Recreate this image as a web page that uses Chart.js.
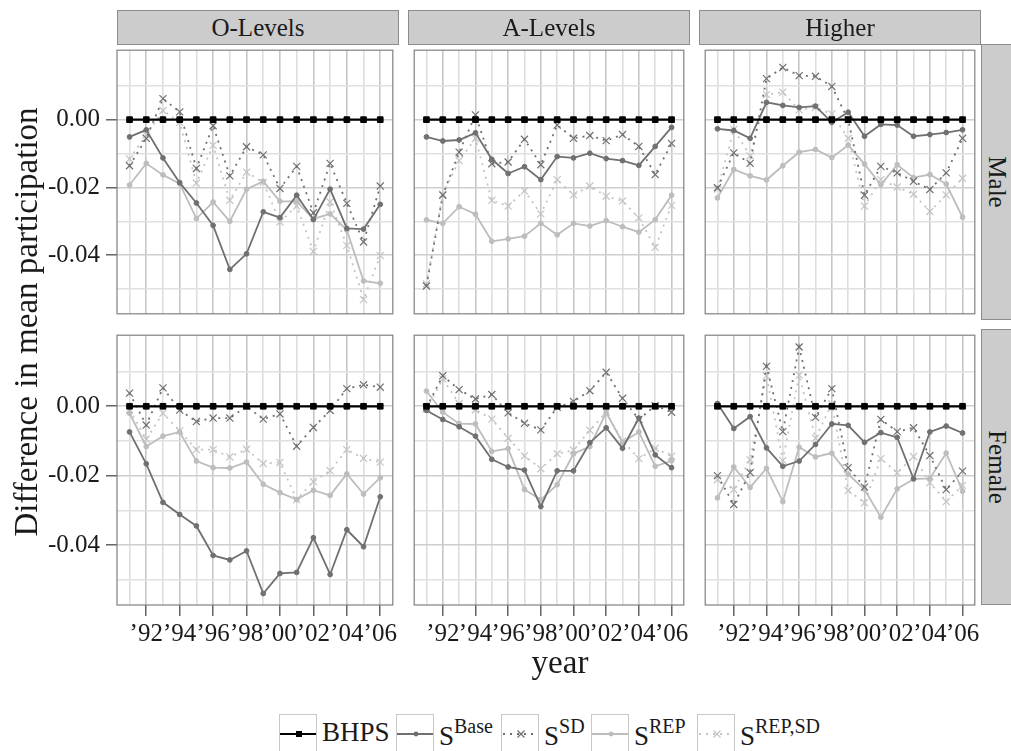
<!DOCTYPE html>
<html>
<head>
<meta charset="utf-8">
<script src="https://cdn.jsdelivr.net/npm/chart.js@4.4.0/dist/chart.umd.min.js"></script>
<style>
  body { margin: 0; background: #fff; width: 1011px; height: 751px; overflow: hidden; position: relative; font-family: 'Liberation Serif', 'DejaVu Serif', serif; color: #1a1a1a; }
  canvas { position: absolute; }
  .strip { position: absolute; background: #cccccc; border: 1px solid #8c8c8c; box-sizing: border-box; display: flex; align-items: center; justify-content: center; font-size: 25px; overflow: hidden; }
  .vtext { transform: rotate(90deg); white-space: nowrap; display: inline-block; }
  .title { position: absolute; font-size: 33px; white-space: nowrap; text-align: center; }
  .key { position: absolute; top: 714px; width: 38px; height: 40px; box-sizing: border-box; border: 1px solid #c8c8c8; }
  .lab { position: absolute; top: 717px; font-size: 27px; white-space: nowrap; }
  .lab sup { font-size: 20px; position: relative; top: -2px; }
</style>
</head>
<body>
<script>
const years = [1991, 1992, 1993, 1994, 1995, 1996, 1997, 1998, 1999, 2000, 2001, 2002, 2003, 2004, 2005, 2006];
const bhps  = [0, 0, 0, 0, 0, 0, 0, 0, 0, 0, 0, 0, 0, 0, 0, 0];

// O-Levels, Male
const olMaleBase  = [-0.0051, -0.0030, -0.0113, -0.0186, -0.0246, -0.0312, -0.0442, -0.0396, -0.0272, -0.0289, -0.0223, -0.0295, -0.0205, -0.0321, -0.0323, -0.0250];
const olMaleSD    = [-0.0136, -0.0055, 0.0062, 0.0023, -0.0144, -0.0018, -0.0166, -0.0080, -0.0104, -0.0203, -0.0138, -0.0275, -0.0129, -0.0247, -0.0361, -0.0196];
const olMaleRep   = [-0.0193, -0.0129, -0.0163, -0.0189, -0.0292, -0.0243, -0.0300, -0.0205, -0.0182, -0.0241, -0.0241, -0.0293, -0.0278, -0.0326, -0.0476, -0.0483];
const olMaleRepSD = [-0.0116, -0.0045, 0.0027, -0.0008, -0.0187, -0.0076, -0.0238, -0.0155, -0.0185, -0.0302, -0.0255, -0.0389, -0.0243, -0.0371, -0.0531, -0.0401];

// A-Levels, Male
const alMaleBase  = [-0.0051, -0.0063, -0.0060, -0.0039, -0.0117, -0.0159, -0.0139, -0.0177, -0.0109, -0.0113, -0.0099, -0.0115, -0.0121, -0.0135, -0.0079, -0.0023];
const alMaleSD    = [-0.0491, -0.0223, -0.0096, 0.0014, -0.0130, -0.0125, -0.0058, -0.0133, -0.0016, -0.0055, -0.0047, -0.0062, -0.0044, -0.0079, -0.0162, -0.0070];
const alMaleRep   = [-0.0296, -0.0306, -0.0257, -0.0279, -0.0359, -0.0352, -0.0344, -0.0306, -0.0340, -0.0306, -0.0314, -0.0298, -0.0316, -0.0332, -0.0295, -0.0223];
const alMaleRepSD = [-0.0485, -0.0220, -0.0121, -0.0055, -0.0238, -0.0255, -0.0210, -0.0278, -0.0177, -0.0222, -0.0196, -0.0226, -0.0240, -0.0290, -0.0377, -0.0253];

// Higher, Male
const hiMaleBase  = [-0.0027, -0.0032, -0.0055, 0.0051, 0.0042, 0.0036, 0.0040, -0.0008, 0.0022, -0.0049, -0.0014, -0.0016, -0.0049, -0.0044, -0.0038, -0.0030];
const hiMaleSD    = [-0.0201, -0.0098, -0.0129, 0.0121, 0.0154, 0.0130, 0.0128, 0.0098, 0.0000, -0.0223, -0.0138, -0.0157, -0.0182, -0.0206, -0.0157, -0.0055];
const hiMaleRep   = [-0.0231, -0.0147, -0.0166, -0.0178, -0.0136, -0.0096, -0.0088, -0.0112, -0.0075, -0.0131, -0.0192, -0.0133, -0.0171, -0.0162, -0.0190, -0.0288];
const hiMaleRepSD = [-0.0205, -0.0029, -0.0107, 0.0074, 0.0081, 0.0029, 0.0036, 0.0017, -0.0055, -0.0255, -0.0177, -0.0199, -0.0220, -0.0271, -0.0222, -0.0173];

// O-Levels, Female
const olFemBase  = [-0.0074, -0.0166, -0.0277, -0.0312, -0.0345, -0.0430, -0.0443, -0.0417, -0.0540, -0.0482, -0.0479, -0.0379, -0.0485, -0.0356, -0.0405, -0.0261];
const olFemSD    = [0.0038, -0.0054, 0.0053, -0.0011, -0.0044, -0.0034, -0.0034, 0.0000, -0.0037, -0.0022, -0.0115, -0.0061, -0.0012, 0.0051, 0.0062, 0.0055];
const olFemRep   = [-0.0020, -0.0116, -0.0086, -0.0074, -0.0158, -0.0177, -0.0178, -0.0161, -0.0225, -0.0249, -0.0269, -0.0242, -0.0257, -0.0195, -0.0253, -0.0206];
const olFemRepSD = [-0.0010, -0.0095, -0.0020, -0.0071, -0.0125, -0.0125, -0.0146, -0.0124, -0.0165, -0.0162, -0.0269, -0.0217, -0.0186, -0.0125, -0.0150, -0.0161];

// A-Levels, Female
const alFemBase  = [-0.0012, -0.0038, -0.0059, -0.0086, -0.0153, -0.0175, -0.0184, -0.0289, -0.0186, -0.0186, -0.0105, -0.0062, -0.0121, -0.0034, -0.0140, -0.0177];
const alFemSD    = [-0.0003, 0.0088, 0.0048, 0.0021, 0.0034, -0.0019, -0.0049, -0.0068, -0.0003, 0.0014, 0.0045, 0.0098, 0.0023, -0.0038, 0.0002, -0.0017];
const alFemRep   = [0.0044, -0.0017, -0.0050, -0.0051, -0.0130, -0.0122, -0.0240, -0.0269, -0.0226, -0.0137, -0.0116, -0.0018, -0.0104, -0.0074, -0.0173, -0.0157];
const alFemRepSD = [-0.0008, 0.0079, 0.0008, -0.0010, -0.0037, -0.0092, -0.0143, -0.0180, -0.0137, -0.0126, -0.0069, -0.0017, -0.0100, -0.0151, -0.0121, -0.0144];

// Higher, Female
const hiFemBase  = [0.0008, -0.0064, -0.0030, -0.0120, -0.0173, -0.0158, -0.0110, -0.0051, -0.0055, -0.0104, -0.0076, -0.0090, -0.0209, -0.0074, -0.0057, -0.0077];
const hiFemSD    = [-0.0200, -0.0283, -0.0191, 0.0115, -0.0073, 0.0171, -0.0032, 0.0051, -0.0177, -0.0233, -0.0038, -0.0073, -0.0062, -0.0142, -0.0240, -0.0187];
const hiFemRep   = [-0.0264, -0.0175, -0.0234, -0.0179, -0.0275, -0.0118, -0.0146, -0.0135, -0.0196, -0.0240, -0.0320, -0.0238, -0.0210, -0.0208, -0.0135, -0.0245];
const hiFemRepSD = [-0.0212, -0.0240, -0.0154, 0.0088, -0.0156, 0.0090, -0.0092, 0.0007, -0.0243, -0.0278, -0.0151, -0.0192, -0.0145, -0.0220, -0.0275, -0.0228];

const yTicks = [0.01, 0, -0.01, -0.02, -0.03, -0.04, -0.05];
const colNames = ['O-Levels', 'A-Levels', 'Higher'];
const rowNames = ['Male', 'Female'];

// layout
const colLeft = [117, 408, 699];
const rowTop = [44, 329];
const panelW = 282, panelH = 276;
const FONT = "'Liberation Serif', 'DejaVu Serif', serif";

const styles = [
  { color: '#000000', dash: [], point: 'rect', r: 4, bw: 2.2, pbw: 1 },
  { color: '#707070', dash: [], point: 'circle', r: 2.4, bw: 1.8, pbw: 1 },
  { color: '#707070', dash: [2, 5], point: 'crossRot', r: 5, bw: 1.8, pbw: 1.2 },
  { color: '#bdbdbd', dash: [], point: 'circle', r: 2.4, bw: 1.8, pbw: 1 },
  { color: '#c4c4c4', dash: [2, 5], point: 'crossRot', r: 5, bw: 1.8, pbw: 1.2 }
];

const panelBorder = {
  id: 'panelBorder',
  afterDraw(chart) {
    const a = chart.chartArea, ctx = chart.ctx;
    ctx.save();
    ctx.strokeStyle = '#808080';
    ctx.lineWidth = 1.2;
    ctx.strokeRect(a.left, a.top, a.right - a.left, a.bottom - a.top);
    ctx.restore();
  }
};

const isEven = v => Math.round(v) % 2 === 0;
const isMajorY = v => Math.abs(Math.round(v * 100)) % 2 === 0;

function makePanel(row, col, series) {
  const c = document.createElement('canvas');
  const left = col === 0 ? 0 : colLeft[col];
  const w = col === 0 ? colLeft[0] + panelW : panelW;
  const h = row === 1 ? panelH + 50 : panelH;
  c.width = w; c.height = h;
  c.style.left = left + 'px';
  c.style.top = rowTop[row] + 'px';
  document.body.appendChild(c);

  const datasets = [bhps].concat(series).map((vals, i) => ({
    data: years.map((yr, j) => ({ x: yr, y: vals[j] })),
    borderColor: styles[i].color,
    backgroundColor: styles[i].color,
    borderWidth: styles[i].bw,
    borderDash: styles[i].dash,
    pointStyle: styles[i].point,
    pointRadius: styles[i].r,
    pointBorderWidth: styles[i].pbw,
    pointBackgroundColor: styles[i].color,
    pointBorderColor: styles[i].color,
    tension: 0
  }));

  new Chart(c, {
    type: 'line',
    data: { datasets },
    plugins: [panelBorder],
    options: {
      responsive: false,
      animation: false,
      devicePixelRatio: 1,
      events: [],
      layout: { padding: 0 },
      plugins: { legend: { display: false }, tooltip: { enabled: false } },
      scales: {
        x: {
          type: 'linear', min: 1990.25, max: 2006.75,
          afterBuildTicks: s => { s.ticks = years.map(v => ({ value: v })); },
          afterFit: s => { s.height = row === 1 ? 50 : 0; s.paddingLeft = 0; s.paddingRight = 0; },
          border: { display: false },
          grid: {
            color: ctx => isEven(ctx.tick.value) ? '#c6c6c6' : '#dedede',
            lineWidth: 1.6,
            drawTicks: row === 1,
            tickLength: 11,
            tickWidth: 1.3,
            tickColor: ctx => isEven(ctx.tick.value) ? '#4d4d4d' : 'rgba(0,0,0,0)'
          },
          ticks: {
            display: row === 1, autoSkip: false, maxRotation: 0, minRotation: 0, padding: 3,
            color: '#1a1a1a', font: { family: FONT, size: 25 },
            callback: v => isEven(v) ? '\u2019' + String(v).slice(2) : ''
          }
        },
        y: {
          min: -0.0573, max: 0.0205,
          afterBuildTicks: s => { s.ticks = yTicks.map(v => ({ value: v })); },
          afterFit: s => { s.width = col === 0 ? colLeft[0] : 0; s.paddingTop = 0; s.paddingBottom = 0; },
          border: { display: false },
          grid: {
            color: ctx => isMajorY(ctx.tick.value) ? '#cecece' : '#e0e0e0',
            lineWidth: 1.6,
            drawTicks: col === 0,
            tickLength: 11,
            tickWidth: 1.3,
            tickColor: ctx => isMajorY(ctx.tick.value) ? '#4d4d4d' : 'rgba(0,0,0,0)'
          },
          ticks: {
            display: col === 0, autoSkip: false, padding: 6,
            color: '#1a1a1a', font: { family: FONT, size: 25 },
            callback: v => isMajorY(v) ? v.toFixed(2) : ''
          }
        }
      }
    }
  });
}

makePanel(0, 0, [olMaleBase, olMaleSD, olMaleRep, olMaleRepSD]);
makePanel(0, 1, [alMaleBase, alMaleSD, alMaleRep, alMaleRepSD]);
makePanel(0, 2, [hiMaleBase, hiMaleSD, hiMaleRep, hiMaleRepSD]);
makePanel(1, 0, [olFemBase, olFemSD, olFemRep, olFemRepSD]);
makePanel(1, 1, [alFemBase, alFemSD, alFemRep, alFemRepSD]);
makePanel(1, 2, [hiFemBase, hiFemSD, hiFemRep, hiFemRepSD]);

// facet strips
colNames.forEach((name, i) => {
  const d = document.createElement('div');
  d.className = 'strip';
  Object.assign(d.style, { left: colLeft[i] + 'px', top: '10px', width: panelW + 'px', height: '35px' });
  d.textContent = name;
  document.body.appendChild(d);
});
rowNames.forEach((name, i) => {
  const d = document.createElement('div');
  d.className = 'strip';
  Object.assign(d.style, { left: '981px', top: rowTop[i] + 'px', width: '32px', height: panelH + 'px' });
  const s = document.createElement('span');
  s.className = 'vtext';
  s.textContent = name;
  d.appendChild(s);
  document.body.appendChild(d);
});

// axis titles
const yt = document.createElement('div');
yt.className = 'title';
yt.textContent = 'Difference in mean participation';
Object.assign(yt.style, { left: (26 - 300) + 'px', top: (322 - 20) + 'px', width: '600px', height: '40px', lineHeight: '40px', transform: 'rotate(-90deg)' });
document.body.appendChild(yt);

const xt = document.createElement('div');
xt.className = 'title';
xt.textContent = 'year';
Object.assign(xt.style, { left: (560 - 100) + 'px', top: (662 - 20) + 'px', width: '200px', height: '40px', lineHeight: '40px' });
document.body.appendChild(xt);

// legend
const legendNames = ['BHPS', 'S<sup>Base</sup>', 'S<sup>SD</sup>', 'S<sup>REP</sup>', 'S<sup>REP,SD</sup>'];
const keyLeft = [279, 396, 501, 591, 697];
legendNames.forEach((name, i) => {
  const st = styles[i];
  const k = document.createElement('div');
  k.className = 'key';
  k.style.left = keyLeft[i] + 'px';
  let mark;
  if (st.point === 'rect') mark = `<rect x="16" y="16" width="6" height="6" fill="${st.color}"/>`;
  else if (st.point === 'circle') mark = `<circle cx="19" cy="19" r="2.4" fill="${st.color}"/>`;
  else mark = `<path d="M15.5 15.5 L22.5 22.5 M22.5 15.5 L15.5 22.5" stroke="${st.color}" stroke-width="1.2"/>`;
  k.innerHTML = `<svg width="36" height="38" style="position:absolute;left:0;top:0"><line x1="0" y1="19" x2="36" y2="19" stroke="${st.color}" stroke-width="${st.bw}" ${st.dash.length ? 'stroke-dasharray="2,5" stroke-dashoffset="-1"' : ''}/>${mark}</svg>`;
  document.body.appendChild(k);
  const l = document.createElement('div');
  l.className = 'lab';
  l.style.left = (keyLeft[i] + 43) + 'px';
  l.innerHTML = name;
  document.body.appendChild(l);
});
</script>
</body>
</html>
